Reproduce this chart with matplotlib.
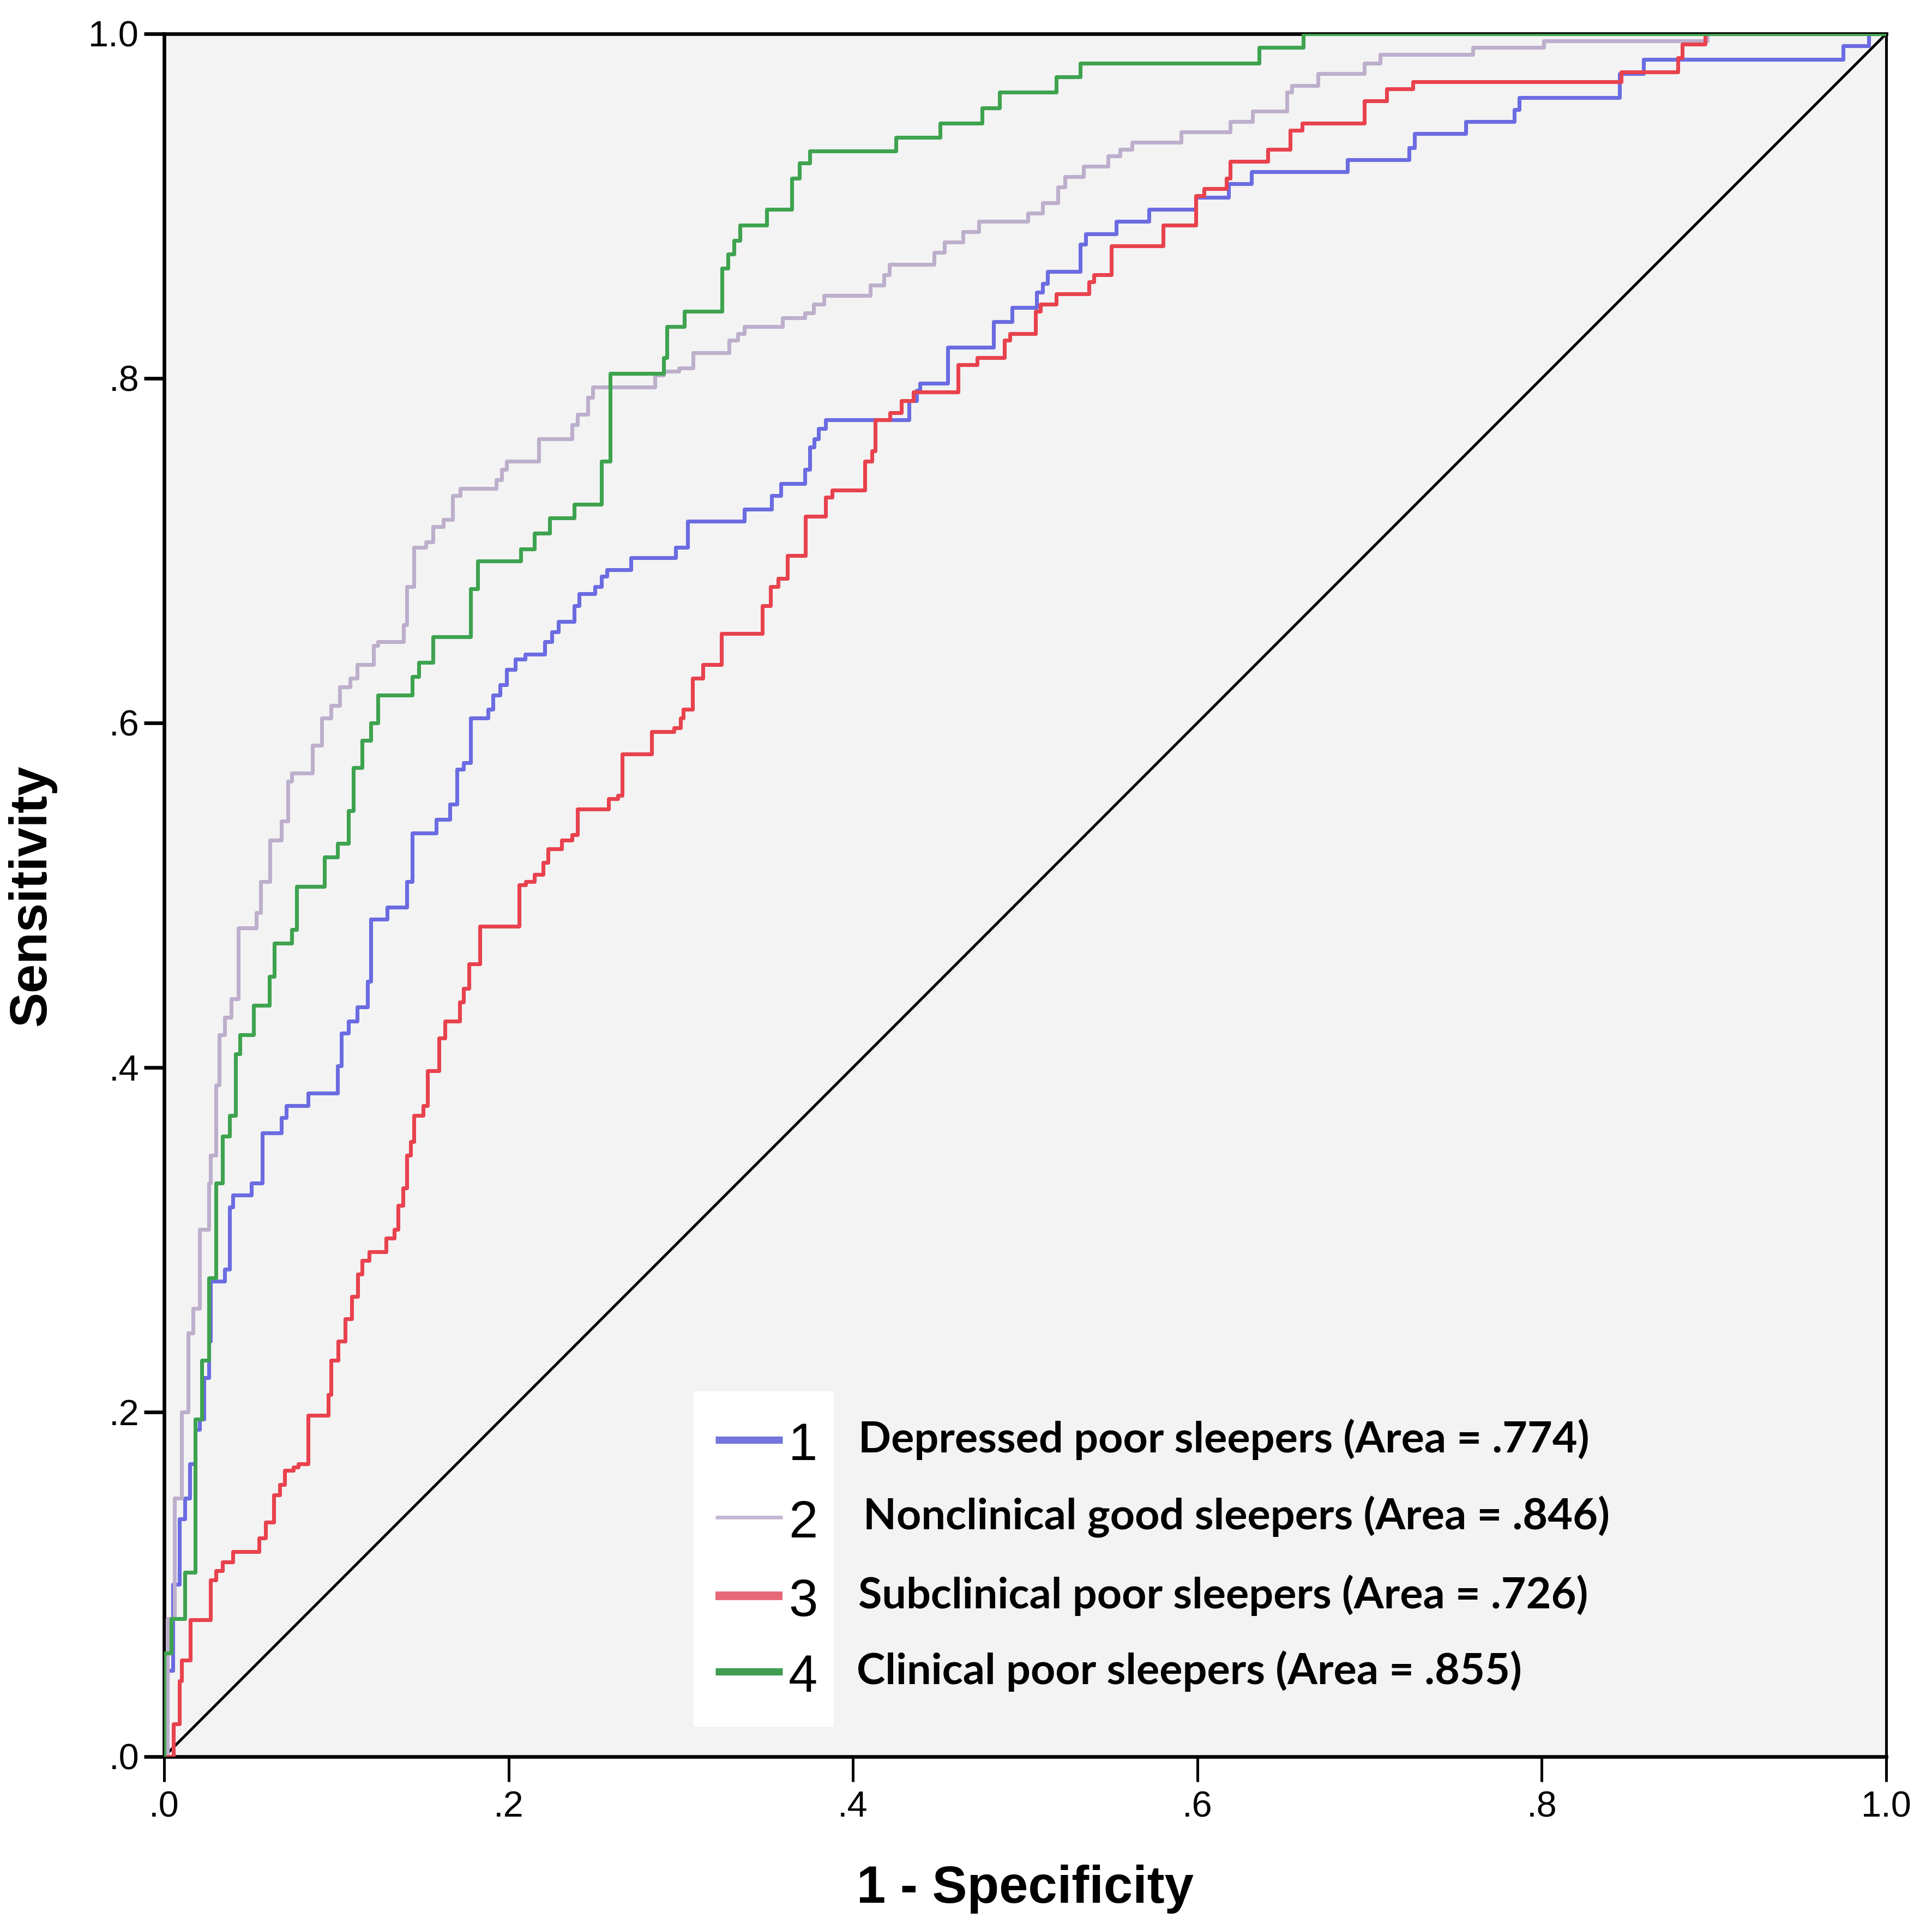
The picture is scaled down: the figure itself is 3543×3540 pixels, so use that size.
import matplotlib
matplotlib.use("Agg")
import matplotlib.pyplot as plt
from matplotlib.patches import Rectangle

# ROC corner points: at x the curve rises to y, then runs flat to the next x
fpr_depressed = [0, 0.002, 0.005, 0.009, 0.012, 0.015, 0.018, 0.0206, 0.023, 0.026, 0.027, 0.035, 0.038, 0.040,
                 0.0507, 0.057, 0.068, 0.071, 0.0836, 0.1007, 0.103, 0.107, 0.112, 0.118, 0.120, 0.1295, 0.141,
                 0.144, 0.158, 0.166, 0.170, 0.174, 0.178, 0.188, 0.191, 0.195, 0.199, 0.204, 0.2096, 0.221,
                 0.225, 0.229, 0.238, 0.241, 0.250, 0.254, 0.257, 0.271, 0.297, 0.304, 0.337, 0.3527, 0.358,
                 0.372, 0.375, 0.3775, 0.380, 0.384, 0.4325, 0.437, 0.439, 0.455, 0.4815, 0.4925, 0.5065, 0.510,
                 0.513, 0.532, 0.535, 0.553, 0.572, 0.599, 0.618, 0.6315, 0.687, 0.723, 0.726, 0.756, 0.784,
                 0.787, 0.845, 0.859, 0.975, 0.99, 1.0]
tpr_depressed = [0, 0.05, 0.10, 0.138, 0.15, 0.17, 0.19, 0.196, 0.22, 0.241, 0.276, 0.283, 0.319, 0.326,
                 0.333, 0.362, 0.371, 0.378, 0.385, 0.401, 0.42, 0.427, 0.435, 0.45, 0.486, 0.493, 0.508,
                 0.536, 0.544, 0.553, 0.573, 0.577, 0.603, 0.608, 0.616, 0.622, 0.631, 0.637, 0.64, 0.647,
                 0.653, 0.659, 0.668, 0.675, 0.679, 0.685, 0.689, 0.696, 0.702, 0.717, 0.724, 0.732, 0.739,
                 0.747, 0.760, 0.765, 0.771, 0.776, 0.787, 0.793, 0.797, 0.818, 0.833, 0.841, 0.850, 0.855,
                 0.862, 0.878, 0.884, 0.891, 0.898, 0.905, 0.913, 0.920, 0.927, 0.934, 0.942, 0.949, 0.956,
                 0.963, 0.977, 0.985, 0.993, 1.0, 1.0]

fpr_good = [0, 0.002, 0.006, 0.010, 0.014, 0.0168, 0.0206, 0.026, 0.027, 0.030, 0.032, 0.035, 0.039, 0.043,
            0.0535, 0.056, 0.0614, 0.068, 0.072, 0.074, 0.086, 0.0915, 0.097, 0.102, 0.108, 0.112, 0.1216,
            0.124, 0.139, 0.141, 0.145, 0.152, 0.156, 0.162, 0.1675, 0.172, 0.193, 0.196, 0.199, 0.2175,
            0.237, 0.240, 0.246, 0.249, 0.285, 0.290, 0.299, 0.307, 0.328, 0.333, 0.337, 0.359, 0.372,
            0.377, 0.383, 0.410, 0.418, 0.421, 0.447, 0.453, 0.464, 0.473, 0.5016, 0.510, 0.519, 0.523,
            0.534, 0.548, 0.555, 0.562, 0.5906, 0.619, 0.632, 0.652, 0.655, 0.670, 0.697, 0.706, 0.760,
            0.801, 0.896, 1.0]
tpr_good = [0, 0.08, 0.15, 0.20, 0.246, 0.26, 0.306, 0.333, 0.349, 0.39, 0.419, 0.429, 0.44, 0.481,
            0.49, 0.508, 0.532, 0.543, 0.566, 0.571, 0.587, 0.603, 0.610, 0.621, 0.626, 0.634, 0.645,
            0.647, 0.657, 0.679, 0.702, 0.705, 0.714, 0.718, 0.732, 0.736, 0.741, 0.747, 0.752, 0.765,
            0.773, 0.779, 0.789, 0.795, 0.802, 0.804, 0.806, 0.815, 0.822, 0.826, 0.830, 0.835, 0.838,
            0.843, 0.848, 0.854, 0.860, 0.866, 0.873, 0.879, 0.885, 0.891, 0.896, 0.902, 0.911, 0.917,
            0.923, 0.929, 0.933, 0.937, 0.943, 0.949, 0.955, 0.966, 0.970, 0.977, 0.983, 0.988, 0.992,
            0.996, 1.0, 1.0]

fpr_subclin = [0, 0.0055, 0.0088, 0.010, 0.0153, 0.027, 0.030, 0.034, 0.040, 0.055, 0.059, 0.0636, 0.067,
               0.070, 0.075, 0.078, 0.0836, 0.0954, 0.097, 0.101, 0.105, 0.109, 0.1125, 0.115, 0.119, 0.129,
               0.1335, 0.136, 0.1387, 0.141, 0.143, 0.145, 0.1505, 0.153, 0.1597, 0.163, 0.1715, 0.174,
               0.177, 0.1834, 0.206, 0.210, 0.215, 0.220, 0.223, 0.231, 0.237, 0.240, 0.258, 0.2635, 0.266,
               0.283, 0.296, 0.300, 0.3015, 0.3067, 0.313, 0.3237, 0.3475, 0.352, 0.3566, 0.362, 0.3724,
               0.384, 0.388, 0.407, 0.411, 0.413, 0.4215, 0.428, 0.435, 0.461, 0.472, 0.488, 0.491, 0.506,
               0.509, 0.518, 0.537, 0.540, 0.550, 0.580, 0.599, 0.604, 0.617, 0.619, 0.641, 0.654, 0.661,
               0.697, 0.710, 0.725, 0.846, 0.879, 0.8815, 0.895, 1.0]
tpr_subclin = [0, 0.019, 0.044, 0.056, 0.0795, 0.1026, 0.108, 0.113, 0.119, 0.127, 0.136, 0.152, 0.158,
               0.166, 0.168, 0.170, 0.198, 0.21, 0.23, 0.241, 0.254, 0.267, 0.28, 0.288, 0.293, 0.301,
               0.306, 0.32, 0.33, 0.349, 0.357, 0.372, 0.378, 0.398, 0.417, 0.427, 0.438, 0.446,
               0.46, 0.482, 0.506, 0.508, 0.512, 0.519, 0.527, 0.532, 0.535, 0.550, 0.556, 0.558, 0.582,
               0.595, 0.597, 0.603, 0.608, 0.626, 0.634, 0.652, 0.668, 0.679, 0.684, 0.697, 0.720,
               0.731, 0.735, 0.752, 0.758, 0.776, 0.78, 0.787, 0.792, 0.808, 0.812, 0.822, 0.826, 0.839,
               0.843, 0.849, 0.856, 0.86, 0.877, 0.889, 0.906, 0.91, 0.916, 0.926, 0.933, 0.944, 0.948,
               0.961, 0.968, 0.972, 0.978, 0.986, 0.994, 1.0, 1.0]

fpr_clin = [0, 0, 0.004, 0.012, 0.018, 0.022, 0.026, 0.030, 0.034, 0.038, 0.0415, 0.044, 0.052, 0.061,
            0.064, 0.074, 0.077, 0.093, 0.1006, 0.107, 0.110, 0.115, 0.120, 0.124, 0.144, 0.148, 0.156,
            0.178, 0.182, 0.207, 0.215, 0.224, 0.238, 0.254, 0.259, 0.290, 0.292, 0.302, 0.324, 0.3275,
            0.331, 0.3345, 0.350, 0.3645, 0.369, 0.375, 0.425, 0.4506, 0.475, 0.485, 0.518, 0.532, 0.636,
            0.6615, 1.0]
tpr_clin = [0, 0.06, 0.08, 0.107, 0.196, 0.23, 0.278, 0.333, 0.36, 0.372, 0.408, 0.419, 0.436, 0.453,
            0.472, 0.480, 0.505, 0.522, 0.530, 0.549, 0.574, 0.59, 0.600, 0.616, 0.627, 0.635, 0.650,
            0.678, 0.694, 0.701, 0.710, 0.719, 0.727, 0.752, 0.803, 0.812, 0.830, 0.839, 0.864, 0.872,
            0.880, 0.889, 0.898, 0.916, 0.925, 0.932, 0.940, 0.948, 0.957, 0.966, 0.975, 0.983, 0.992,
            1.0, 1.0]

labels = ["Depressed poor sleepers (Area = .774)",
          "Nonclinical good sleepers (Area = .846)",
          "Subclinical poor sleepers (Area = .726)",
          "Clinical poor sleepers (Area = .855)"]
numbers = ["1", "2", "3", "4"]
ticks = [0, 0.2, 0.4, 0.6, 0.8, 1.0]
tick_labels = [".0", ".2", ".4", ".6", ".8", "1.0"]

colors = ["#6b6be2", "#bdafcc", "#e8424e", "#3ea34f"]
key_colors = ["#7474dc", "#c4b6d2", "#e66878", "#3f9c52"]
key_widths = [3.2, 1.6, 3.8, 3.2]

narrow = ["Liberation Sans Narrow", "Liberation Sans", "DejaVu Sans"]

fig = plt.figure(figsize=(3543 / 300, 3540 / 300), dpi=300)
ax = fig.add_axes([301 / 3543, 318 / 3540, 3158 / 3543, 3160 / 3540])
ax.set_facecolor("#f3f3f3")

curves = [(fpr_depressed, tpr_depressed), (fpr_good, tpr_good),
          (fpr_subclin, tpr_subclin), (fpr_clin, tpr_clin)]
for (fx, ty), c in zip(curves, colors):
    ax.plot(fx, ty, drawstyle="steps-post", color=c, lw=1.7, zorder=3)

# reference line
ax.plot([0, 1], [0, 1], color="black", lw=1.2, zorder=2)

ax.set_xlim(0, 1)
ax.set_ylim(0, 1)
ax.set_xticks(ticks)
ax.set_yticks(ticks)
ax.set_xticklabels(tick_labels, family=narrow, fontsize=16)
ax.set_yticklabels(tick_labels, family=narrow, fontsize=16)
ax.tick_params(axis="x", length=11, width=1.2, pad=4)
ax.tick_params(axis="y", length=9, width=1.6, pad=2)
for s in ax.spines.values():
    s.set_linewidth(1.6)
    s.set_color("black")
ax.spines["right"].set_linewidth(1.2)

ax.set_xlabel("1 - Specificity", fontsize=23, fontweight="bold", family="Liberation Sans")
ax.set_ylabel("Sensitivity", fontsize=23, fontweight="bold", family="Liberation Sans")
ax.xaxis.set_label_coords(0.5, -0.077)
ax.yaxis.set_label_coords(-0.077, 0.5)
ax.xaxis.label.set_va("center")
ax.yaxis.label.set_va("center")

# key box: white panel with numbered line samples, names to its right
ax.add_patch(Rectangle((0.3075, 0.0174), 0.0815, 0.1946, facecolor="white",
                       edgecolor="none", transform=ax.transAxes, zorder=4))
rows = [0.184, 0.139, 0.0935, 0.0495]
text_x = [0.403, 0.406, 0.403, 0.402]
for i in range(4):
    ax.plot([0.320, 0.359], [rows[i], rows[i]], color=key_colors[i], lw=key_widths[i],
            solid_capstyle="butt", transform=ax.transAxes, zorder=5)
    ax.text(0.371, rows[i] - 0.004, numbers[i], transform=ax.transAxes, ha="center", va="center",
            fontsize=23, family=narrow, zorder=5)
    ax.text(text_x[i], rows[i], labels[i], transform=ax.transAxes, ha="left", va="center",
            fontsize=19, fontweight="bold", family="Lato", zorder=5)

fig.savefig("out.png", dpi=300, facecolor="white")
